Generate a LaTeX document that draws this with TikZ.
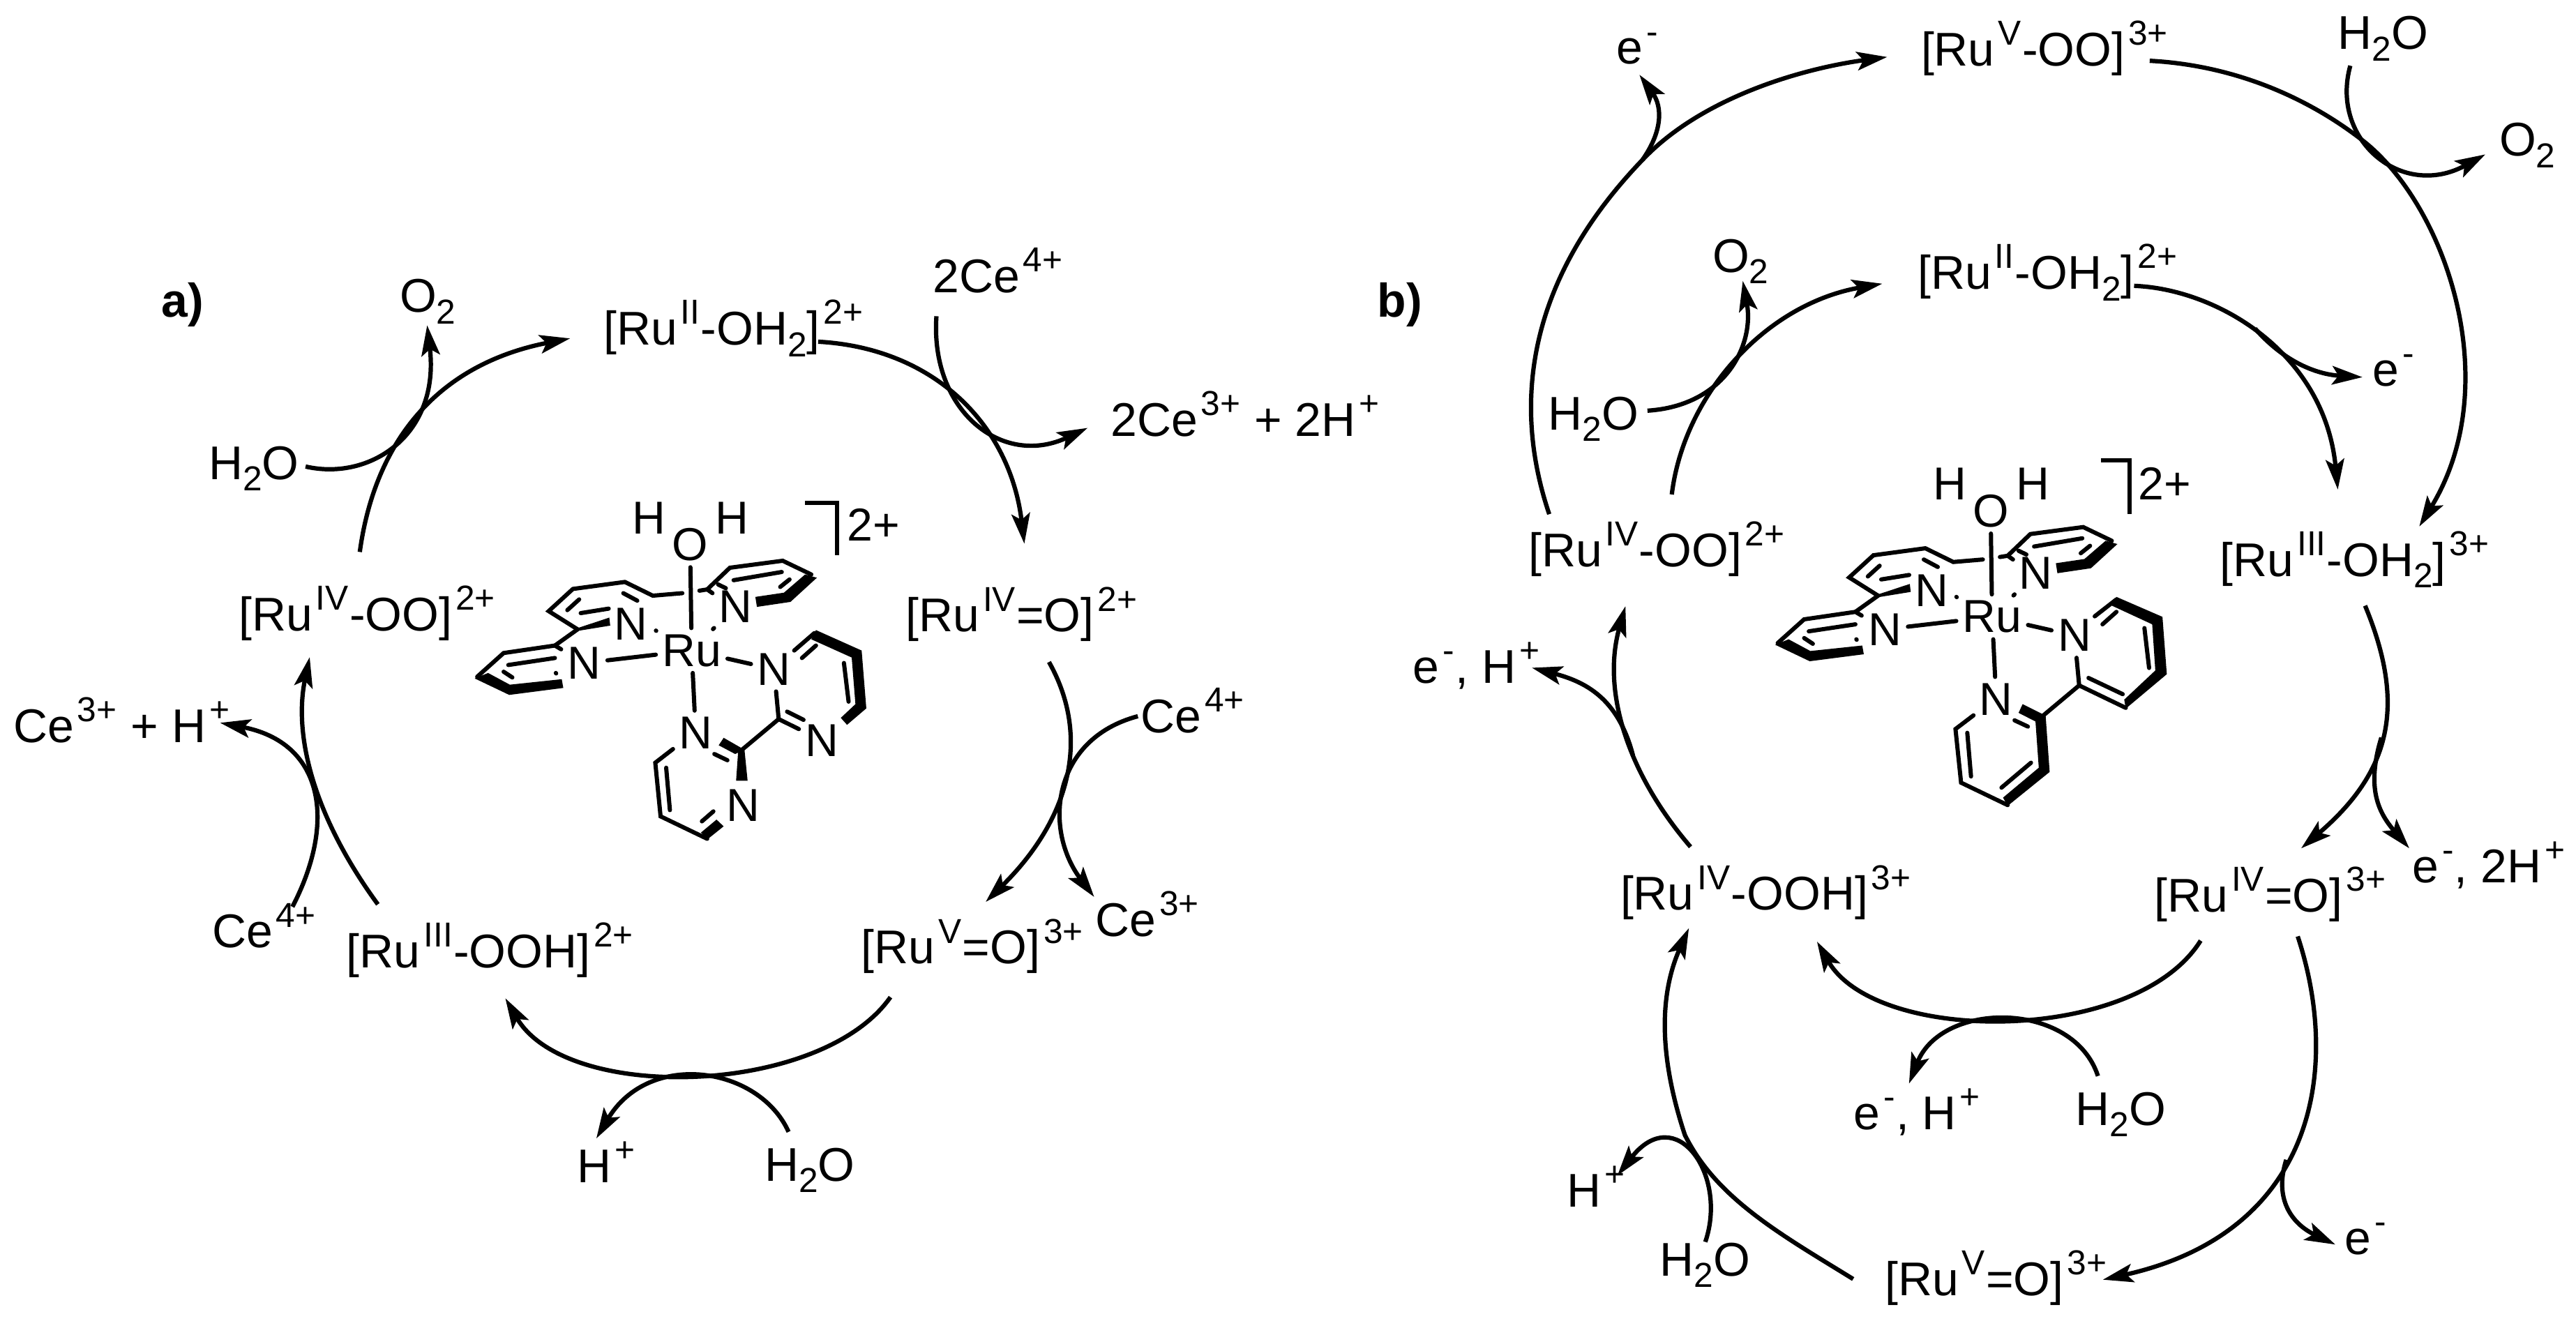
\documentclass[tikz,border=0pt]{standalone}
\usepackage{fontspec}
\setmainfont{Liberation Sans}
\usetikzlibrary{arrows.meta}
\newcommand{\supr}[1]{\kern1.2pt\raisebox{7.2pt}{\fontsize{12}{12}\selectfont #1}\kern0.3pt\relax}
\newcommand{\subr}[1]{\raisebox{-4pt}{\fontsize{12}{12}\selectfont #1}}
\newcommand{\tpybonds}{
    \node[atom] (Ru) at (0,0) {Ru};
    \node[atom] (O) at (-5,-425) {O};
    \node[atom] (H1) at (-137,-532) {H};
    \node[atom] (H2) at (130,-532) {H};
    \node[atom] (N1) at (-195,-105) {N};
    \node[atom] (N2) at (-345,50) {N};
    \node[atom] (N3) at (140,-175) {N};
    \node[atom] (N4) at (265,75) {N};
    \node[atom] (N5) at (13,330) {N};
    \draw[bond] (Ru) -- (O);
    \draw[bond] (Ru) -- (N2);
    \draw[bond] (Ru) -- (N3);
    \draw[bond] (Ru) -- (N4);
    \draw[bond] (Ru) -- (N5);
    \draw[bond] (-115,-80) -- (-114,-79);
    \draw[bond] (-367,-85) -- (-460,-158) -- (-382,-247) -- (-215,-275) -- (-125,-220) -- (-30,-230);
    \draw[bond] (-400,-162) -- (-362,-205);
    \draw[bond] (-357,-150) -- (-267,-168);
    \draw[bond] (-220,-230) -- (-175,-200);
    \fill[boldbond] (-367,-90) -- (-265,-132) -- (-262,-100) -- (-370,-78) -- cycle;
    \draw[bond] (-367,-85) -- (-440,-20);
    \draw[bond] (-420,-5) -- (-440,-20) -- (-605,10) -- (-690,105);
    \fill[boldbond] (-698,112) -- (-587,178) -- (-413,150) -- (-418,115) -- (-585,137) -- (-655,90) -- cycle;
    \draw[bond] (-590,58) -- (-440,30);
    \draw[bond] (-605,85) -- (-577,108);
    \draw[bond] (-437,90) -- (-436,92);
    \draw[bond] (25,-240) -- (50,-245) -- (123,-332) -- (293,-360) -- (385,-305);
    \draw[bond] (50,-245) -- (67,-230);
    \draw[bond] (85,-265) -- (110,-250);
    \fill[boldbond] (403,-292) -- (318,-195) -- (210,-175) -- (205,-215) -- (297,-232) -- (365,-305) -- cycle;
    \draw[bond] (135,-282) -- (290,-315);
    \draw[bond] (285,-255) -- (315,-285);
}
\tikzset{
    chem/.style={inner sep=0pt, anchor=base west, font=\fontsize{16.4}{16.4}\selectfont},
    atom/.style={inner sep=2pt, font=\fontsize{16}{16}\selectfont},
    panel/.style={inner sep=0pt, anchor=base west, font=\fontsize{16.4}{16.4}\selectfont\bfseries},
    arc/.style={line width=1.5pt, -{Stealth[length=10.5pt,width=6.4pt,inset=2.2pt]}},
    bond/.style={line width=1.45pt, line cap=round},
    boldbond/.style={fill=black},
    molecule/.style={x=0.003791cm, y=-0.003033cm}
}
\begin{document}
\begin{tikzpicture}[x=0.02cm, y=-0.02cm]
    \useasboundingbox (0,0) rectangle (1568,808);

    \node[panel] (aLabel) at (98,193) {a)};
    \node[chem] (aO2) at (243,190) {O\subr{2}};
    \node[chem] (aRuII) at (367,210) {[Ru\supr{II}-OH\subr{2}]\supr{2+}};
    \node[chem] (aCeIn) at (567.5,178) {2Ce\supr{4+}};
    \node[chem] (aCeOut) at (675.7,265.4) {2Ce\supr{3+} + 2H\supr{+}};
    \node[chem] (aRuIVO) at (551,384.6) {[Ru\supr{IV}=O]\supr{2+}};
    \node[chem] (aCeb) at (694,446) {Ce\supr{4+}};
    \node[chem] (aCec) at (666.5,570) {Ce\supr{3+}};
    \node[chem] (aRuVO) at (524,586.7) {[Ru\supr{V}=O]\supr{3+}};
    \node[chem] (aRuIII) at (210.6,589) {[Ru\supr{III}-OOH]\supr{2+}};
    \node[chem] (aCed) at (128.8,577) {Ce\supr{4+}};
    \node[chem] (aCee) at (7.8,452) {Ce\supr{3+} + H\supr{+}};
    \node[chem] (aRuIVOO) at (145,384) {[Ru\supr{IV}-OO]\supr{2+}};
    \node[chem] (aH2Oa) at (126.6,291.7) {H\subr{2}O};
    \node[chem] (aHp) at (351,720) {H\supr{+}};
    \node[chem] (aH2Ob) at (465,719) {H\subr{2}O};

    \draw[arc] ([shift={(74,-48)}]aRuIVOO.base west) .. controls (228,270) and (265,222) .. ([shift={(-20,-4)}]aRuII.base west);
    \draw[arc] ([shift={(59.4,-7.7)}]aH2Oa.base west) .. controls (225,293) and (268,265) .. ([shift={(17,8)}]aO2.base west);
    \draw[arc] ([shift={(131,-2)}]aRuII.base west) .. controls (570,212) and (615,260) .. ([shift={(72.5,-53.6)}]aRuIVO.base west);
    \draw[arc] ([shift={(2.5,14.5)}]aCeIn.base west) .. controls (566,250) and (610,285) .. ([shift={(-13.7,-4.9)}]aCeOut.base west);
    \draw[arc] ([shift={(87.5,18.4)}]aRuIVO.base west) .. controls (665,450) and (650,500) .. ([shift={(76,-37.7)}]aRuVO.base west);
    \draw[arc] ([shift={(-1.4,-10)}]aCeb.base west) .. controls (640,450) and (635,505) .. ([shift={(-0.5,-24)}]aCec.base west);
    \draw[arc] ([shift={(18,20.3)}]aRuVO.base west) .. controls (500,667) and (345,672) .. ([shift={(97,18.7)}]aRuIII.base west);
    \draw[arc] ([shift={(15,-30)}]aH2Ob.base west) .. controls (462,649) and (395,639) .. ([shift={(12,-27)}]aHp.base west);
    \draw[arc] ([shift={(19.4,-38.5)}]aRuIII.base west) .. controls (193,500) and (178,450) .. ([shift={(43.5,16)}]aRuIVOO.base west);
    \draw[arc] ([shift={(49.2,-25)}]aCed.base west) .. controls (205,500) and (197,452) .. ([shift={(126.2,-12)}]aCee.base west);

    \begin{scope}[shift={(421,396)}, molecule, name prefix=a]
        \tpybonds
        \node[atom] (N6) at (420,360) {N};
        \node[atom] (N7) at (165,620) {N};
        \node[atom] (Chg) at (585,-505) {2+};
        \draw[bond, line cap=butt] (365,-592) -- (467,-592) -- (467,-382);
        \draw[bond] (N4) -- (280,275) -- (345,315);
        \draw[bond] (307,245) -- (360,278);
        \fill[boldbond] (500,298) -- (562,232) -- (547,0) -- (400,-82) -- (385,-45) -- (515,28) -- (527,215) -- (480,270) -- cycle;
        \draw[bond] (395,-70) -- (330,0);
        \draw[bond] (355,30) -- (400,-20);
        \draw[bond] (490,50) -- (505,205);
        \draw[bond] (280,275) -- (160,400);
        \draw[bond] (-60,395) -- (-117,450) -- (-100,665) -- (50,755);
        \fill[boldbond] (50,758) -- (103,705) -- (80,678) -- (30,730) -- cycle;
        \fill[boldbond] (150,398) -- (170,398) -- (180,522) -- (143,522) -- cycle;
        \fill[boldbond] (103,350) -- (87,380) -- (140,415) -- (170,398) -- cycle;
        \draw[bond] (-82,470) -- (-70,640);
        \draw[bond] (33,685) -- (70,645);
        \draw[bond] (73,415) -- (115,440);
    \end{scope}

    \node[panel] (bLabel) at (838,193) {b)};
    \node[chem] (bEa) at (983.6,39) {e\supr{-}};
    \node[chem] (bRuV) at (1169,40) {[Ru\supr{V}-OO]\supr{3+}};
    \node[chem] (bH2Oa) at (1422.6,30) {H\subr{2}O};
    \node[chem] (bO2a) at (1521,95) {O\subr{2}};
    \node[chem] (bO2b) at (1042,165.7) {O\subr{2}};
    \node[chem] (bRuII) at (1167,176) {[Ru\supr{II}-OH\subr{2}]\supr{2+}};
    \node[chem] (bEb) at (1443.8,235) {e\supr{-}};
    \node[chem] (bH2Ob) at (942,261.7) {H\subr{2}O};
    \node[chem] (bRuIVOO) at (930,345) {[Ru\supr{IV}-OO]\supr{2+}};
    \node[chem] (bRuIII) at (1351,350.8) {[Ru\supr{III}-OH\subr{2}]\supr{3+}};
    \node[chem] (bEH) at (859.8,415.8) {e\supr{-}, H\supr{+}};
    \node[chem] (bRuIVOOH) at (986,554) {[Ru\supr{IV}-OOH]\supr{3+}};
    \node[chem] (bRuIVO) at (1311,555) {[Ru\supr{IV}=O]\supr{3+}};
    \node[chem] (bE2H) at (1468,537.4) {e\supr{-}, 2H\supr{+}};
    \node[chem] (bEHb) at (1128,687.6) {e\supr{-}, H\supr{+}};
    \node[chem] (bH2Oc) at (1263,685) {H\subr{2}O};
    \node[chem] (bHp) at (953.4,734.8) {H\supr{+}};
    \node[chem] (bH2Od) at (1010,776.7) {H\subr{2}O};
    \node[chem] (bRuVO) at (1147,788.5) {[Ru\supr{V}=O]\supr{3+}};
    \node[chem] (bEc) at (1426.9,763.7) {e\supr{-}};

    \coordinate (bBranchA) at (999.6,97.5);
    \coordinate (bBranchB) at (1440,87);
    \coordinate (bBranchC) at (1372.6,200);
    \coordinate (bBranchD) at (1449.5,449);
    \coordinate (bBranchE) at (1391.6,706);
    \coordinate (bBranchF) at (1025.6,691);
    \coordinate (bBranchG) at (994,460);

    \draw[arc] ([shift={(13,-32)}]bRuIVOO.base west) .. controls (920,245) and (930,170) .. (bBranchA) .. controls (1035,60) and (1095,42) .. ([shift={(-20.3,-5.3)}]bRuV.base west);
    \draw[arc] (bBranchA) .. controls (1012,80) and (1012,65) .. ([shift={(14.3,6.5)}]bEa.base west);
    \draw[arc] ([shift={(139.5,-3)}]bRuV.base west) .. controls (1365,40) and (1410,63) .. (bBranchB) .. controls (1490,128) and (1525,235) .. ([shift={(121.6,-30.3)}]bRuIII.base west);
    \draw[arc] ([shift={(8,10)}]bH2Oa.base west) .. controls (1418,85) and (1462,122) .. ([shift={(-8.2,-1)}]bO2a.base west);
    \draw[arc] ([shift={(87.6,-44)}]bRuIVOO.base west) .. controls (1025,240) and (1075,185) .. ([shift={(-21.3,-3.3)}]bRuII.base west);
    \draw[arc] ([shift={(60.8,-11.7)}]bH2Ob.base west) .. controls (1050,247) and (1068,210) .. ([shift={(18.8,5.3)}]bO2b.base west);
    \draw[arc] ([shift={(132,-2)}]bRuII.base west) .. controls (1350,176) and (1415,215) .. ([shift={(72,-52.8)}]bRuIII.base west);
    \draw[arc] (bBranchC) .. controls (1392,222) and (1412,228) .. ([shift={(-5.8,-5.4)}]bEb.base west);
    \draw[arc] ([shift={(88.6,17.9)}]bRuIII.base west) .. controls (1465,430) and (1455,470) .. ([shift={(89.7,-38.6)}]bRuIVO.base west);
    \draw[arc] (bBranchD) .. controls (1440,480) and (1448,495) .. ([shift={(-1.5,-21)}]bE2H.base west);
    \draw[arc] ([shift={(28.5,17.6)}]bRuIVO.base west) .. controls (1300,636) and (1142,636) .. ([shift={(120,19.2)}]bRuIVOOH.base west);
    \draw[arc] ([shift={(14,-30)}]bH2Oc.base west) .. controls (1262,609) and (1182,609) .. ([shift={(34,-28)}]bEHb.base west);
    \draw[arc] ([shift={(87.6,15)}]bRuIVO.base west) .. controls (1425,650) and (1410,750) .. ([shift={(133,-9.5)}]bRuVO.base west);
    \draw[arc] (bBranchE) .. controls (1384,730) and (1395,745) .. ([shift={(-5.4,-6.1)}]bEc.base west);
    \draw[arc] ([shift={(-19,-9.9)}]bRuVO.base west) .. controls (1085,752) and (1045,730) .. (bBranchF) .. controls (1012,650) and (1008,610) .. ([shift={(42,11)}]bRuIVOOH.base west);
    \draw[arc] ([shift={(28,-20.7)}]bH2Od.base west) .. controls (1052,715) and (1020,670) .. ([shift={(31.1,-19.2)}]bHp.base west);
    \draw[arc] ([shift={(43,-38.5)}]bRuIVOOH.base west) .. controls (990,470) and (975,420) .. ([shift={(59.4,24)}]bRuIVOO.base west);
    \draw[arc] (bBranchG) .. controls (985,425) and (965,415) .. ([shift={(72.7,-9.3)}]bEH.base west);

    \begin{scope}[shift={(1212.6,375.5)}, molecule, name prefix=b]
        \tpybonds
        \node[atom] (Chg) at (555,-535) {2+};
        \draw[bond, line cap=butt] (350,-628) -- (442,-628) -- (442,-412);
        \draw[bond] (N4) -- (280,275) -- (430,365);
        \draw[bond] (310,245) -- (420,310);
        \fill[boldbond] (400,-80) -- (548,0) -- (562,230) -- (430,368) -- (425,332) -- (525,215) -- (515,30) -- (385,-45) -- cycle;
        \draw[bond] (400,-70) -- (330,-2);
        \draw[bond] (355,30) -- (400,-20);
        \draw[bond] (490,45) -- (505,205);
        \draw[bond] (280,275) -- (165,395);
        \draw[bond] (-60,395) -- (-118,450) -- (-100,665) -- (50,755);
        \fill[boldbond] (172,395) -- (185,622) -- (50,758) -- (35,725) -- (150,605) -- (138,395) -- cycle;
        \fill[boldbond] (98,350) -- (85,385) -- (140,420) -- (170,395) -- cycle;
        \draw[bond] (-80,465) -- (-68,640);
        \draw[bond] (30,685) -- (125,585);
        \draw[bond] (72,415) -- (115,440);
    \end{scope}
\end{tikzpicture}
\end{document}
